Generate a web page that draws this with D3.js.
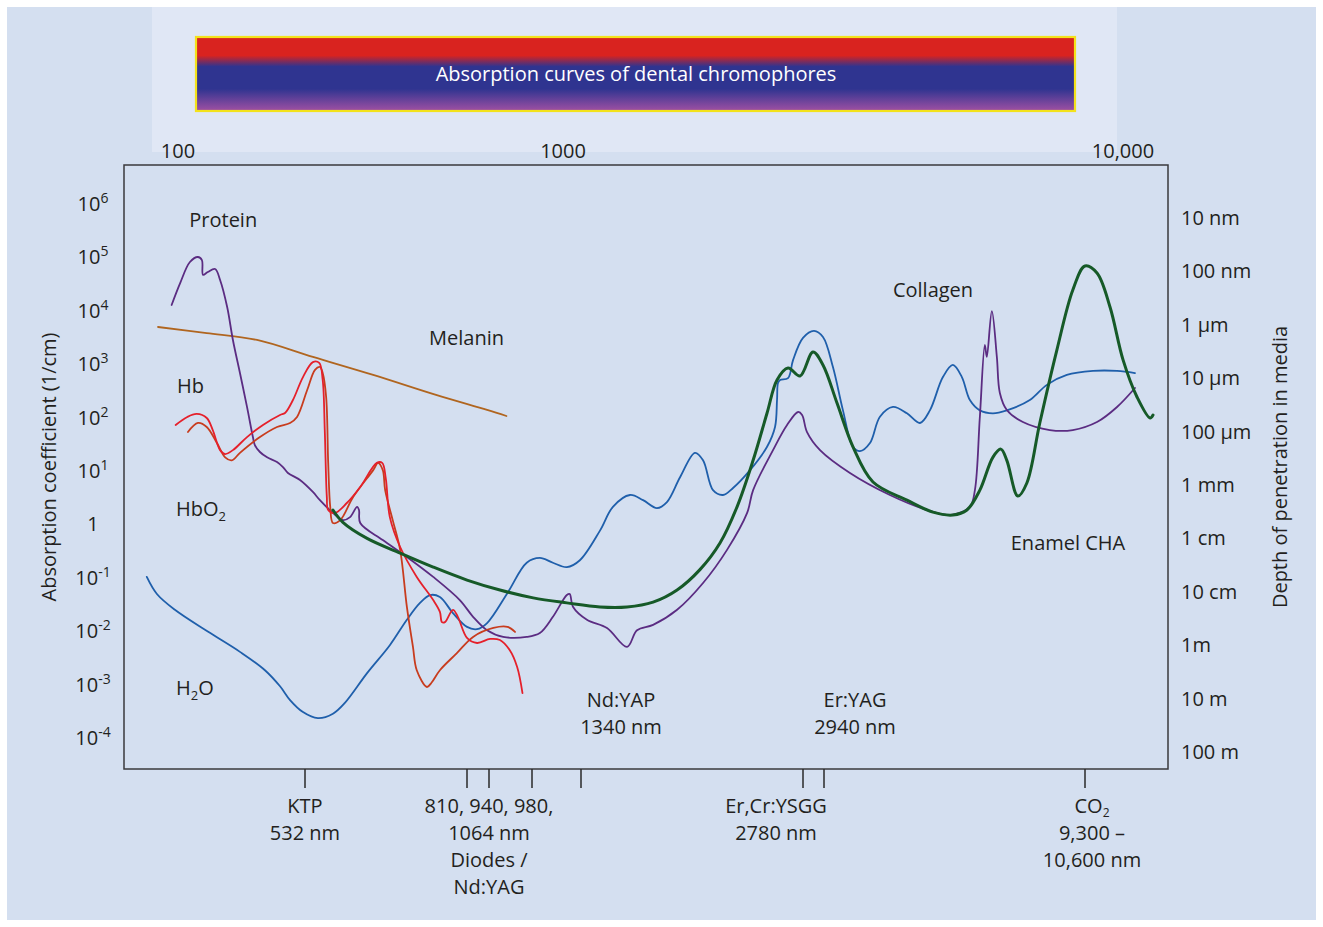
<!DOCTYPE html>
<html>
<head>
<meta charset="utf-8">
<script src="https://cdn.jsdelivr.net/npm/d3@7"></script>
<style>
  html, body { margin: 0; padding: 0; background: #ffffff; }
  svg { display: block; font-family: "Open Sans", "DejaVu Sans", sans-serif; }
</style>
</head>
<body>
<svg id="chart" width="1323" height="927"></svg>
<script>
// Absorption spectra: [wavelength (nm), absorption coefficient (1/cm)]
const water = [
  [66.5,0.19],[75.9,0.091],[96,0.046],[148,0.018],[226,0.0075],[314,0.0034],[383,0.0017],[437,0.00094],
  [518,0.00056],[550,0.00043],[572,0.00052],[590,0.00083],[625,0.0030],[663,0.010],[693,0.030],[717,0.062],
  [736,0.087],[755,0.080],[781,0.040],[810,0.022],[867,0.020],[928,0.026],[957,0.095],[975,0.35],[993,0.43],
  [1015,0.35],[1039,0.29],[1062,0.39],[1187,1.4],[1279,3.9],[1389,6.5],[1464,5.2],[1548,3.7],[1611,4.8],
  [1698,14],[1803,40],[1862,29],[1938,8.0],[2017,6.5],[2100,8.8],[2248,19],[2407,52],[2485,122],[2505,390],
  [2515,810],[2536,925],[2618,1000],[2672,2200],[2780,5700],[2863,7700],[2932,5900],[3073,1600],[3227,250],
  [3390,52],[3509,43],[3685,61],[3870,190],[4125,290],[4419,220],[4711,145],[4947,250],[5273,1050],
  [5538,1770],[5788,1050],[6021,390],[6323,250],[6740,220],[7219,250],[8084,390],[8788,750],[9694,1150],
  [10961,1370],[12120,1370],[13065,1250]
];

const protein = [
  [92,23500],[103,61000],[117,150000],[130,186000],[137,163000],[139,86000],[148,97500],[163,111000],
  [174,69000],[191,21500],[206,5200],[226,1250],[248,290],[268,79],[275,56],[294,41.5],[323,33],[368,27],
  [398,21.7],[425,16.8],[498,12.4],[543,7.4],[553,5.2],[572,3.0],[587,2.2],[598,2.5],[609,3.9],[612,3.4],
  [614,1.94],[651,0.93],[693,0.45],[742,0.19],[795,0.070],[844,0.034],[928,0.019],[953,0.0143],[975,0.0143],
  [993,0.0169],[1015,0.034],[1039,0.087],[1044,0.091],[1050,0.052],[1101,0.030],[1236,0.021],[1373,0.0093],
  [1429,0.019],[1524,0.024],[1678,0.046],[1862,0.146],[2050,0.61],[2222,3.0],[2276,8.0],[2465,45],[2608,133],
  [2726,233],[2770,205],[2810,98],[2909,45],[3340,16.8],[4064,6.5],[4876,3.4],[5457,2.74],[6021,3.9],
  [6171,8.0],[6323,188],[6480,4190],[6543,2500],[6707,18100],[6874,2500],[6976,530],[7219,254],[7812,151],
  [8917,107],[9984,107],[11146,151],[12120,289],[13065,655]
];

const melanin = [
  [77,9100],[146,7000],[283,5200],[543,2500],[635,1150],[749,480],[928,254],[956,196]
];

const hb = [
  [97,133],[113,188],[128,214],[146,180],[158,107],[174,45],[186,38],[206,45],[248,79],[306,133],[383,205],
  [409,223],[454,390],[518,1050],[543,2000],[552,1930],[557,925],[560,107],[563,6.0],[565,3.4],[575,3.0],
  [593,4.6],[614,9.2],[641,26],[650,26],[656,13.5],[663,2.5],[681,0.69],[711,0.19],[742,0.070],[755,0.042],
  [759,0.027],[765,0.027],[781,0.046],[791,0.034],[810,0.0137],[867,0.011],[941,0.0131],[950,0.0125],
  [959,0.0081],[966,0.0039],[971,0.00127]
];

const hbo2 = [
  [114,98],[130,145],[146,122],[167,61],[186,33],[203,29],[226,40],[294,79],[368,122],[437,145],[479,188],
  [535,600],[546,1430],[553,1620],[557,1250],[562,445],[565,26],[568,3.9],[572,1.94],[583,2.2],[603,6.0],
  [635,19],[643,26],[651,19],[655,8.0],[668,2.2],[681,0.61],[693,0.052],[704,0.0093],[711,0.0034],
  [730,0.00165],[739,0.0020],[755,0.0034],[789,0.0071],[844,0.0143],[944,0.021],[957,0.022],[964,0.0177]
];

const enamel = [
  [572,3.4],[587,2.0],[625,1.0],[681,0.53],[742,0.29],[810,0.166],[950,0.108],[982,0.077],[1039,0.062],
  [1187,0.052],[1373,0.052],[1524,0.064],[1678,0.108],[1839,0.26],[1993,0.82],[2134,3.9],[2276,29],
  [2407,223],[2505,925],[2618,1550],[2747,1100],[2855,3100],[2932,1770],[3134,343],[3390,52],[3740,11.4],
  [4419,5.2],[5021,3.1],[5538,2.74],[5933,3.4],[6323,8.0],[6740,33],[7011,47],[7219,29],[7622,6.2],
  [7966,10.9],[8489,145],[9231,3370],[9984,44900],[10600,126000],[11146,93000],[11769,21500],[12429,2200],
  [13176,445],[13914,180],[14088,205]
];

// Axis ticks and labels
const absorptionTicks = [1e6, 1e5, 1e4, 1e3, 1e2, 1e1, 1, 1e-1, 1e-2, 1e-3, 1e-4];
const depthLabels = ["10 nm", "100 nm", "1 \u00b5m", "10 \u00b5m", "100 \u00b5m", "1 mm", "1 cm", "10 cm", "1m", "10 m", "100 m"];
const headerTicks = [100, 1000, 10000];
const headerTickLabels = ["100", "1000", "10,000"];
const laserTicks = [532, 810, 940, 980, 1064, 2780, 2940, 10600];

// Wavelength anchors of the schematic spectrum axis (piecewise logarithmic)
const spectrumAnchors = [50, 100, 532, 810, 940, 980, 1064, 1340, 2780, 2940, 10600, 15000];

const W = 1323, H = 927;
const plot = { left: 124, top: 165, right: 1168, bottom: 769 };
const FS = 20, SUB = 13;

const x = d3.scaleLog()
  .domain(spectrumAnchors)
  .range([125, 178, 305, 467, 489, 532, 581, 621, 803, 824, 1085, 1168]);

const y = d3.scaleLog().domain([1e-4, 1e6]).range([752, 218]);

const headerX = d3.scaleLog().domain(headerTicks).range([178, 563, 1123]);

const svg = d3.select("#chart");
const ink = "#231f20";

// Backgrounds
svg.append("rect").attr("x", 7).attr("y", 7).attr("width", W - 14).attr("height", H - 14).attr("fill", "#d4dff0");
svg.append("rect").attr("x", 152).attr("y", 7).attr("width", 965).attr("height", 145).attr("fill", "#e0e7f5");

// Title banner
const defs = svg.append("defs");
const grad = defs.append("linearGradient").attr("id", "bannerGrad")
  .attr("x1", 0).attr("y1", 0).attr("x2", 0).attr("y2", 1);
[[0, "#d9231f"], [0.25, "#d9231f"], [0.4, "#2f3490"], [0.7, "#2f3490"], [1, "#a050a3"]].forEach(([o, c]) =>
  grad.append("stop").attr("offset", o).attr("stop-color", c));

svg.append("rect").attr("x", 196).attr("y", 37).attr("width", 879).attr("height", 74)
  .attr("fill", "url(#bannerGrad)").attr("stroke", "#f3e21b").attr("stroke-width", 2.2);
svg.append("text").attr("x", 636).attr("y", 81).attr("text-anchor", "middle")
  .attr("fill", "#ffffff").attr("font-size", FS).text("Absorption curves of dental chromophores");

// Header wavelength labels
svg.append("g").selectAll("text").data(headerTicks).join("text")
  .attr("x", d => headerX(d)).attr("y", 158).attr("text-anchor", "middle")
  .attr("fill", ink).attr("font-size", FS)
  .text((d, i) => headerTickLabels[i]);

// Plot frame
svg.append("rect").attr("x", plot.left).attr("y", plot.top)
  .attr("width", plot.right - plot.left).attr("height", plot.bottom - plot.top)
  .attr("fill", "none").attr("stroke", "#3a3a3c").attr("stroke-width", 1.5);

// Left axis: absorption coefficient
const leftAxis = svg.append("g");
absorptionTicks.forEach(v => {
  const e = Math.round(Math.log10(v));
  const t = leftAxis.append("text").attr("x", 93).attr("y", y(v) - 7)
    .attr("text-anchor", "middle").attr("fill", ink).attr("font-size", FS);
  if (e === 0) {
    t.text("1");
  } else {
    t.append("tspan").text("10");
    t.append("tspan").attr("dy", -8).attr("font-size", SUB + 1).text(String(e));
  }
});
svg.append("text").attr("transform", "translate(56,467) rotate(-90)")
  .attr("text-anchor", "middle").attr("fill", ink).attr("font-size", FS)
  .text("Absorption coefficient (1/cm)");

// Right axis: depth of penetration (1 / absorption)
const rightAxis = d3.axisRight(y).tickValues(absorptionTicks).tickSize(0).tickPadding(13)
  .tickFormat((d, i) => depthLabels[i]);
const ra = svg.append("g").attr("transform", `translate(${plot.right},0)`).call(rightAxis);
ra.select(".domain").remove();
ra.selectAll("text").attr("font-size", FS).attr("fill", ink).attr("font-family", "Open Sans, sans-serif");
svg.append("text").attr("transform", "translate(1287,467) rotate(-90)")
  .attr("text-anchor", "middle").attr("fill", ink).attr("font-size", FS)
  .text("Depth of penetration in media");

// Laser wavelength ticks under the plot
svg.append("g").selectAll("line").data(laserTicks).join("line")
  .attr("x1", d => x(d)).attr("x2", d => x(d))
  .attr("y1", plot.bottom).attr("y2", plot.bottom + 19)
  .attr("stroke", "#2a2a2a").attr("stroke-width", 1.5);

function addLines(cx, y0, lines) {
  const g = svg.append("g");
  lines.forEach((ln, i) => {
    const t = g.append("text").attr("x", cx).attr("y", y0 + i * 27)
      .attr("text-anchor", "middle").attr("fill", ink).attr("font-size", FS);
    if (Array.isArray(ln)) {
      t.append("tspan").text(ln[0]);
      t.append("tspan").attr("dy", 4).attr("font-size", SUB - 1).text(ln[1]);
    } else {
      t.text(ln);
    }
  });
}
addLines(x(532), 813, ["KTP", "532 nm"]);
addLines(x(940), 813, ["810, 940, 980,", "1064 nm", "Diodes /", "Nd:YAG"]);
addLines(x(2780) - 27, 813, ["Er,Cr:YSGG", "2780 nm"]);
addLines(x(10600) + 7, 813, [["CO", "2"], "9,300 \u2013", "10,600 nm"]);
addLines(x(1340), y(7e-4), ["Nd:YAP", "1340 nm"]);
addLines(x(2940) + 31, y(7e-4), ["Er:YAG", "2940 nm"]);

// Absorption curves
const line = d3.line()
  .x(d => x(d[0]))
  .y(d => y(d[1]))
  .curve(d3.curveCatmullRom.alpha(0.5));

const series = [
  { data: melanin, color: "#b0651f", width: 1.8 },
  { data: water,   color: "#1f5fab", width: 1.8 },
  { data: protein, color: "#5b2c82", width: 1.8 },
  { data: hbo2,    color: "#c83c1e", width: 1.8 },
  { data: hb,      color: "#e5202b", width: 1.8 },
  { data: enamel,  color: "#165a28", width: 3 }
];
svg.append("g").selectAll("path").data(series).join("path")
  .attr("d", d => line(d.data))
  .attr("fill", "none")
  .attr("stroke", d => d.color)
  .attr("stroke-width", d => d.width)
  .attr("stroke-linejoin", "round")
  .attr("stroke-linecap", "round");

// Curve names
const curveNames = [
  { nm: 116, v: 6.8e5, parts: ["Protein"] },
  { nm: 734, v: 4200, parts: ["Melanin"] },
  { nm: 98.7, v: 530, parts: ["Hb"] },
  { nm: 97.4, v: 2.6, parts: ["HbO", "2"] },
  { nm: 97.4, v: 0.00117, parts: ["H", "2", "O"] },
  { nm: 4125, v: 33000, parts: ["Collagen"] },
  { nm: 7360, v: 0.61, parts: ["Enamel CHA"] }
];
curveNames.forEach(c => {
  const t = svg.append("text").attr("x", x(c.nm)).attr("y", y(c.v))
    .attr("fill", ink).attr("font-size", FS);
  t.append("tspan").text(c.parts[0]);
  if (c.parts.length > 1) t.append("tspan").attr("dy", 5).attr("font-size", SUB).text(c.parts[1]);
  if (c.parts.length > 2) t.append("tspan").attr("dy", -5).text(c.parts[2]);
});
</script>
</body>
</html>
